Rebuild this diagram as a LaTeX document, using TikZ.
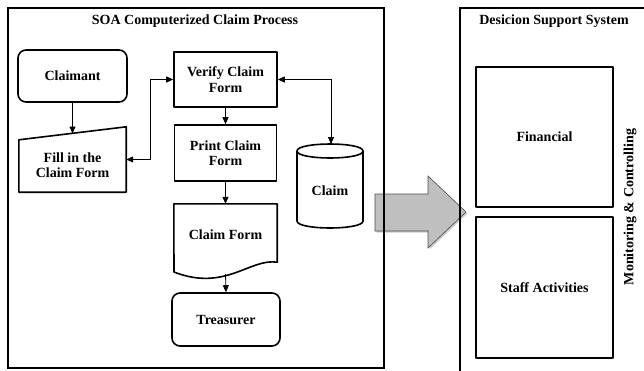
\documentclass[tikz,border=0pt]{standalone}
\usepackage{fontspec}
\setmainfont{Liberation Serif}
\usetikzlibrary{arrows.meta,shadows,calc}

\begin{document}
\begin{tikzpicture}[x=1pt,y=-1pt,
  every node/.style={font=\fontsize{14}{15.5}\selectfont\bfseries, align=center, inner sep=0pt},
  shapeline/.style={line width=1.6pt, line join=round},
  frame/.style={line width=1.6pt},
  box/.style={shapeline, draw, rectangle, fill=white},
  rbox/.style={box, rounded corners=8pt},
  link/.style={line width=0.8pt, -{Triangle[length=7pt,width=6pt]}},
  dlink/.style={line width=0.8pt, {Triangle[length=7pt,width=6pt]}-{Triangle[length=7pt,width=6pt]}},
]
\useasboundingbox (0,0) rectangle (644,370);
\clip (0,0) rectangle (644,370);

% transfer arrow between the two systems (drawn below the frames)
\path[draw=gray!60!black, fill=gray!50, line width=0.6pt, line join=miter,
      drop shadow={opacity=0.4, shadow xshift=1.5pt, shadow yshift=-1.5pt}]
  (375,194) -- (428,194) -- (428,176) -- (466,212) -- (428,248) -- (428,231) -- (375,231) -- cycle;

% outer frames
\draw[frame] (8,8) rectangle (384,368);
\draw[frame] (460,8) rectangle (680,400);

% titles
\node (soatitle) at (195,21) {SOA Computerized Claim Process};
\node (dsstitle) at (554,21) {Desicion Support System};

% claim process flow
\node[rbox, minimum width=109pt, minimum height=52pt] (claimant) at (72.5,76) {Claimant};

\node[minimum width=107pt, minimum height=65pt] (fill) at (72.5,159.5) {};
\draw[shapeline, fill=white] (fill.south west) -- (fill.south east) -- (fill.north east)
  -- ($(fill.north west)+(0,13)$) -- cycle;
\node (filltext) at ($(fill.center)+(0,5.5)$) {Fill in the\\Claim Form};
\coordinate (filltop) at (72.5,133.5);

\node[box, minimum width=103pt, minimum height=55pt] (verify) at (225.5,79.5) {Verify Claim\\Form};
\node[box, minimum width=102pt, minimum height=56pt] (print) at (225.5,153) {Print Claim\\Form};

% printed claim form (document shape with wavy bottom)
\node[minimum width=103pt, minimum height=58pt] (doc) at (225.5,233) {};
\draw[shapeline, fill=white] (doc.south east) -- (doc.north east) -- (doc.north west) -- (174,272)
  .. controls (225,292) and (250,258) .. (doc.south east) -- cycle;
\node (doctext) at (225.5,235) {Claim Form};
\coordinate (docbot) at (225.5,274);

\node[rbox, minimum width=108pt, minimum height=53pt] (treas) at (226,319.5) {Treasurer};

% claim database
\draw[shapeline, fill=white] (297,151) -- (297,221)
  .. controls (297,230.3) and (363,230.3) .. (363,221) -- (363,151)
  .. controls (363,141.7) and (297,141.7) .. (297,151) -- cycle;
\draw[shapeline] (297,151) .. controls (297,160.3) and (363,160.3) .. (363,151);
\node (claim) at (330,191) {Claim};
\coordinate (claimtop) at (331,144);

% connectors
\draw[link] (claimant.south) -- (filltop);
\draw[dlink] (fill.east) -- ++(24,0) |- (verify.west);
\draw[dlink] (verify.east) -| (claimtop);
\draw[link] (verify) -- (print);
\draw[link] (print) -- (doc);
\draw[link] (docbot) -- (treas.north);

% decision support modules
\node[box, minimum width=137pt, minimum height=140pt] (financial) at (544.5,137) {Financial};
\node[box, minimum width=137pt, minimum height=141pt] (staff) at (544.5,287.5) {Staff Activities};
\node[rotate=90] (monitor) at (630,207) {Monitoring \& Controlling};
\end{tikzpicture}
\end{document}
